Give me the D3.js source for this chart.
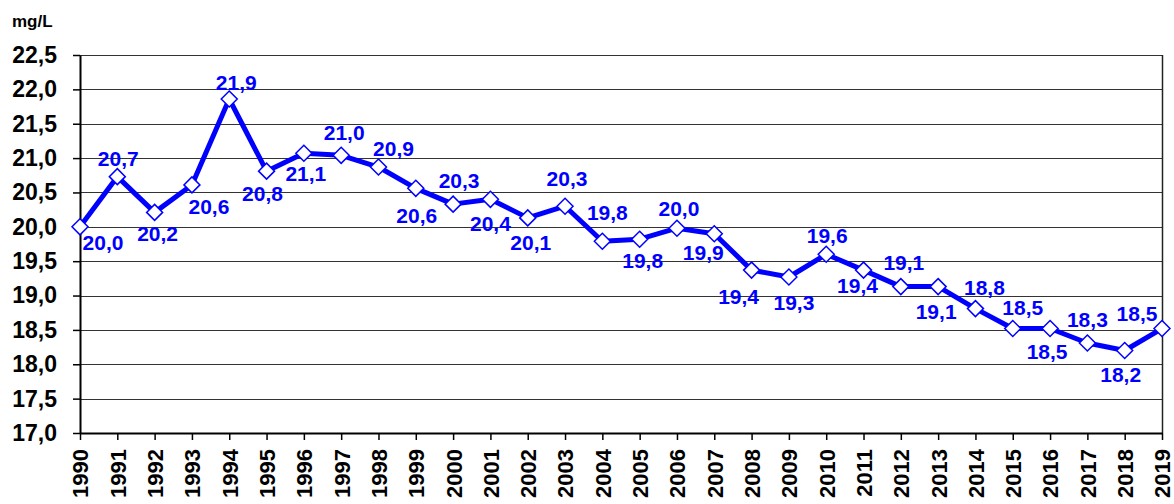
<!DOCTYPE html>
<html>
<head>
<meta charset="utf-8">
<script src="https://cdn.jsdelivr.net/npm/d3@7"></script>
<style>
  html, body { margin: 0; padding: 0; background: #fff; }
  svg { display: block; font-family: "Liberation Sans", Arial, sans-serif; font-weight: bold; }
</style>
</head>
<body>
<svg id="chart" width="1174" height="504"></svg>
<script>
// ---- data ----
const years = [1990,1991,1992,1993,1994,1995,1996,1997,1998,1999,2000,2001,2002,2003,2004,2005,2006,2007,2008,2009,2010,2011,2012,2013,2014,2015,2016,2017,2018,2019];
const values = [20.0,20.73,20.21,20.61,21.86,20.81,21.07,21.04,20.87,20.56,20.33,20.4,20.13,20.3,19.79,19.82,19.98,19.9,19.37,19.27,19.6,19.37,19.13,19.13,18.81,18.52,18.52,18.31,18.2,18.52];
const yTicks = [17.0,17.5,18.0,18.5,19.0,19.5,20.0,20.5,21.0,21.5,22.0,22.5];
const unitLabel = "mg/L";

// ---- layout (label offsets relative to each point, in px) ----
const labelOffsets = [
  [23,16],[1,-18],[3,21],[17,22],[7,-17],[-4,22],[2,20],[3,-23],[15,-19],[1,27],
  [6,-24],[0,24],[3,25],[2,-28],[5,-29],[3,21],[2,-20],[-11,19],[-13,26],[5,25],
  [1,-19],[-6,15],[3,-24],[-2,25],[9,-21],[10,-21],[-3,23],[0,-24],[-4,24],[-25,-15]
];

const svg = d3.select("#chart");
const mLeft = 80, mRight = 1162, mTop = 55, mBottom = 433;

const x = d3.scaleLinear().domain([years[0], years[years.length-1]]).range([mLeft, mRight]);
const y = d3.scaleLinear().domain([17, 22.5]).range([mBottom, mTop]);
const fmt = v => d3.format(".1f")(v).replace(".", ",");

// gridlines
svg.append("g").selectAll("line").data(yTicks.filter(t => t > 17)).join("line")
  .attr("x1", mLeft).attr("x2", mRight)
  .attr("y1", d => Math.round(y(d)) + 0.5).attr("y2", d => Math.round(y(d)) + 0.5)
  .attr("stroke", "#333").attr("stroke-width", 1);

// right border
svg.append("line").attr("x1", mRight + 0.5).attr("x2", mRight + 0.5)
  .attr("y1", mTop).attr("y2", mBottom).attr("stroke", "#222").attr("stroke-width", 1.5);

// y axis
const yAxis = svg.append("g").attr("transform", `translate(${mLeft},0)`)
  .call(d3.axisLeft(y).tickValues(yTicks).tickFormat(fmt).tickSize(7).tickPadding(16).tickSizeOuter(0));
yAxis.select(".domain").attr("stroke", "#000").attr("stroke-width", 2);
yAxis.selectAll(".tick line").attr("stroke", "#000").attr("stroke-width", 1.5);
yAxis.selectAll(".tick text").attr("font-size", 23).attr("font-weight", "bold")
  .attr("font-family", "Liberation Sans, Arial, sans-serif").attr("fill", "#000");

// x axis
const xAxis = svg.append("g").attr("transform", `translate(0,${mBottom})`)
  .call(d3.axisBottom(x).tickValues(years).tickFormat(d3.format("d")).tickSize(7).tickSizeOuter(0));
xAxis.select(".domain").attr("stroke", "#000").attr("stroke-width", 2);
xAxis.selectAll(".tick line").attr("stroke", "#000").attr("stroke-width", 1.5);
xAxis.selectAll(".tick text")
  .attr("font-size", 22).attr("font-weight", "bold")
  .attr("font-family", "Liberation Sans, Arial, sans-serif").attr("fill", "#000")
  .attr("text-anchor", "end")
  .attr("transform", "rotate(-90)")
  .attr("x", -16).attr("y", 0).attr("dy", "0.36em");

// unit label
svg.append("text").attr("x", 12).attr("y", 27).attr("font-size", 17).attr("fill", "#000").text(unitLabel);

// series line
const pts = years.map((yr, i) => ({yr, v: values[i], off: labelOffsets[i]}));
svg.append("path").datum(pts)
  .attr("d", d3.line().x(d => x(d.yr)).y(d => y(d.v)))
  .attr("fill", "none").attr("stroke", "#0000ff").attr("stroke-width", 5).attr("stroke-linejoin", "round");

// markers
svg.append("g").selectAll("path").data(pts).join("path")
  .attr("transform", d => `translate(${x(d.yr)},${y(d.v)})`)
  .attr("d", "M0,-8L8,0L0,8L-8,0Z")
  .attr("fill", "#fff").attr("stroke", "#0000ff").attr("stroke-width", 1.5);

// data labels
svg.append("g").selectAll("text").data(pts).join("text")
  .attr("x", d => x(d.yr) + d.off[0]).attr("y", d => y(d.v) + d.off[1])
  .attr("text-anchor", "middle").attr("dy", "0.36em")
  .attr("font-size", 21).attr("fill", "#0000ff")
  .text(d => fmt(d.v));
</script>
</body>
</html>
